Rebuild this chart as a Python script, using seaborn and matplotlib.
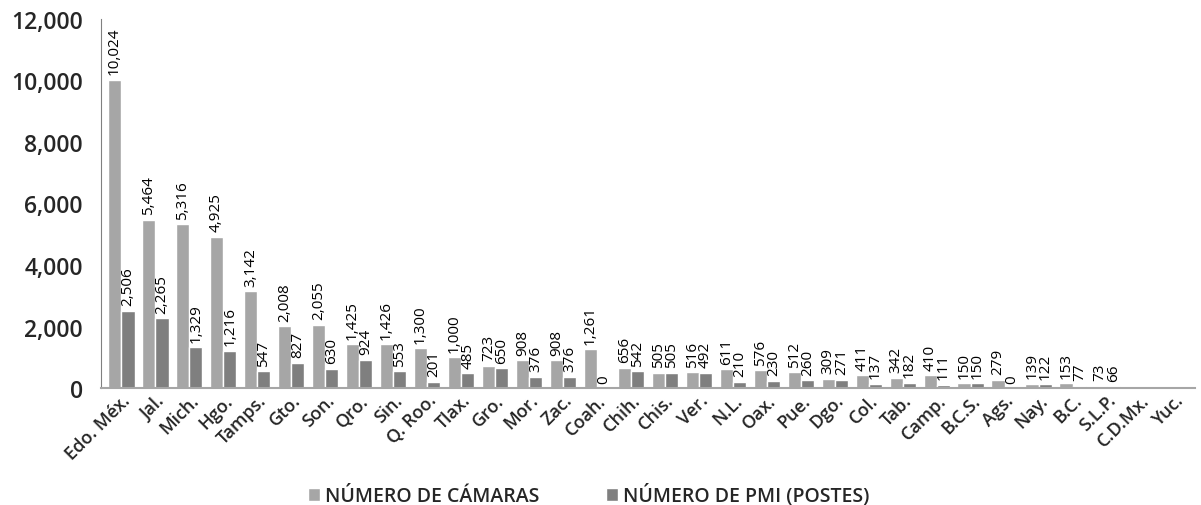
import numpy as np
import pandas as pd
import seaborn as sns
import matplotlib.pyplot as plt

# Datos
estados = ['Edo. Méx.', 'Jal.', 'Mich.', 'Hgo.', 'Tamps.', 'Gto.', 'Son.', 'Qro.',
           'Sin.', 'Q. Roo.', 'Tlax.', 'Gro.', 'Mor.', 'Zac.', 'Coah.', 'Chih.',
           'Chis.', 'Ver.', 'N.L.', 'Oax.', 'Pue.', 'Dgo.', 'Col.', 'Tab.',
           'Camp.', 'B.C.S.', 'Ags.', 'Nay.', 'B.C.', 'S.L.P.', 'C.D.Mx.', 'Yuc.']
camaras = [10024, 5464, 5316, 4925, 3142, 2008, 2055, 1425, 1426, 1300, 1000, 723,
           908, 908, 1261, 656, 505, 516, 611, 576, 512, 309, 411, 342, 410, 150,
           279, 139, 153, 73, np.nan, np.nan]
postes = [2506, 2265, 1329, 1216, 547, 827, 630, 924, 553, 201, 485, 650, 376,
          376, 0, 542, 505, 492, 210, 230, 260, 271, 137, 182, 111, 150, 0, 122,
          77, 66, np.nan, np.nan]
series = ['NÚMERO DE CÁMARAS', 'NÚMERO DE PMI (POSTES)']
colores = ['#A6A6A6', '#7F7F7F']

df = pd.DataFrame({'Estado': estados * 2,
                   'Valor': camaras + postes,
                   'Serie': [series[0]] * len(estados) + [series[1]] * len(estados)})

sns.set_style('white')
plt.rcParams['font.family'] = ['Open Sans', 'DejaVu Sans']

fig = plt.figure(figsize=(12.01, 5.06), dpi=100)
ax = fig.add_axes([0.084, 0.231, 0.911, 0.73])

sns.barplot(data=df, x='Estado', y='Valor', hue='Serie', palette=colores,
            width=0.78, saturation=1, ax=ax, legend=True)

# Etiquetas de valor
for cont in ax.containers:
    etiquetas = ['' if np.isnan(v) else f'{v:,.0f}' for v in cont.datavalues]
    ax.bar_label(cont, labels=etiquetas, rotation=90, padding=4, fontsize=11,
                 color='#000000')

ax.set_ylim(0, 12000)
ax.set_xlim(-0.6, len(estados) - 0.4)
ax.set_yticks(range(0, 12001, 2000))
ax.yaxis.set_major_formatter(plt.FuncFormatter(lambda v, p: f'{v:,.0f}'))
ax.tick_params(axis='y', labelsize=16.5, length=0, pad=13)
ax.tick_params(axis='x', labelsize=13, length=0, pad=2)
plt.setp(ax.get_xticklabels(), rotation=45, ha='right', rotation_mode='anchor')
for t in ax.get_yticklabels() + ax.get_xticklabels():
    t.set_fontweight('semibold')
ax.set_xlabel('')
ax.set_ylabel('')

for lado in ['top', 'right']:
    ax.spines[lado].set_visible(False)
ax.spines['left'].set_color('#808080')
ax.spines['bottom'].set_color('#A6A6A6')
ax.spines['bottom'].set_linewidth(1.5)

ax.legend(loc='center', bbox_to_anchor=(0.446, -0.29), ncol=2, frameon=False,
          handlelength=0.6, handleheight=0.6, handletextpad=0.3, columnspacing=3.4,
          prop={'size': 14, 'weight': 'semibold'})

fig.savefig('out.png', dpi=100)
